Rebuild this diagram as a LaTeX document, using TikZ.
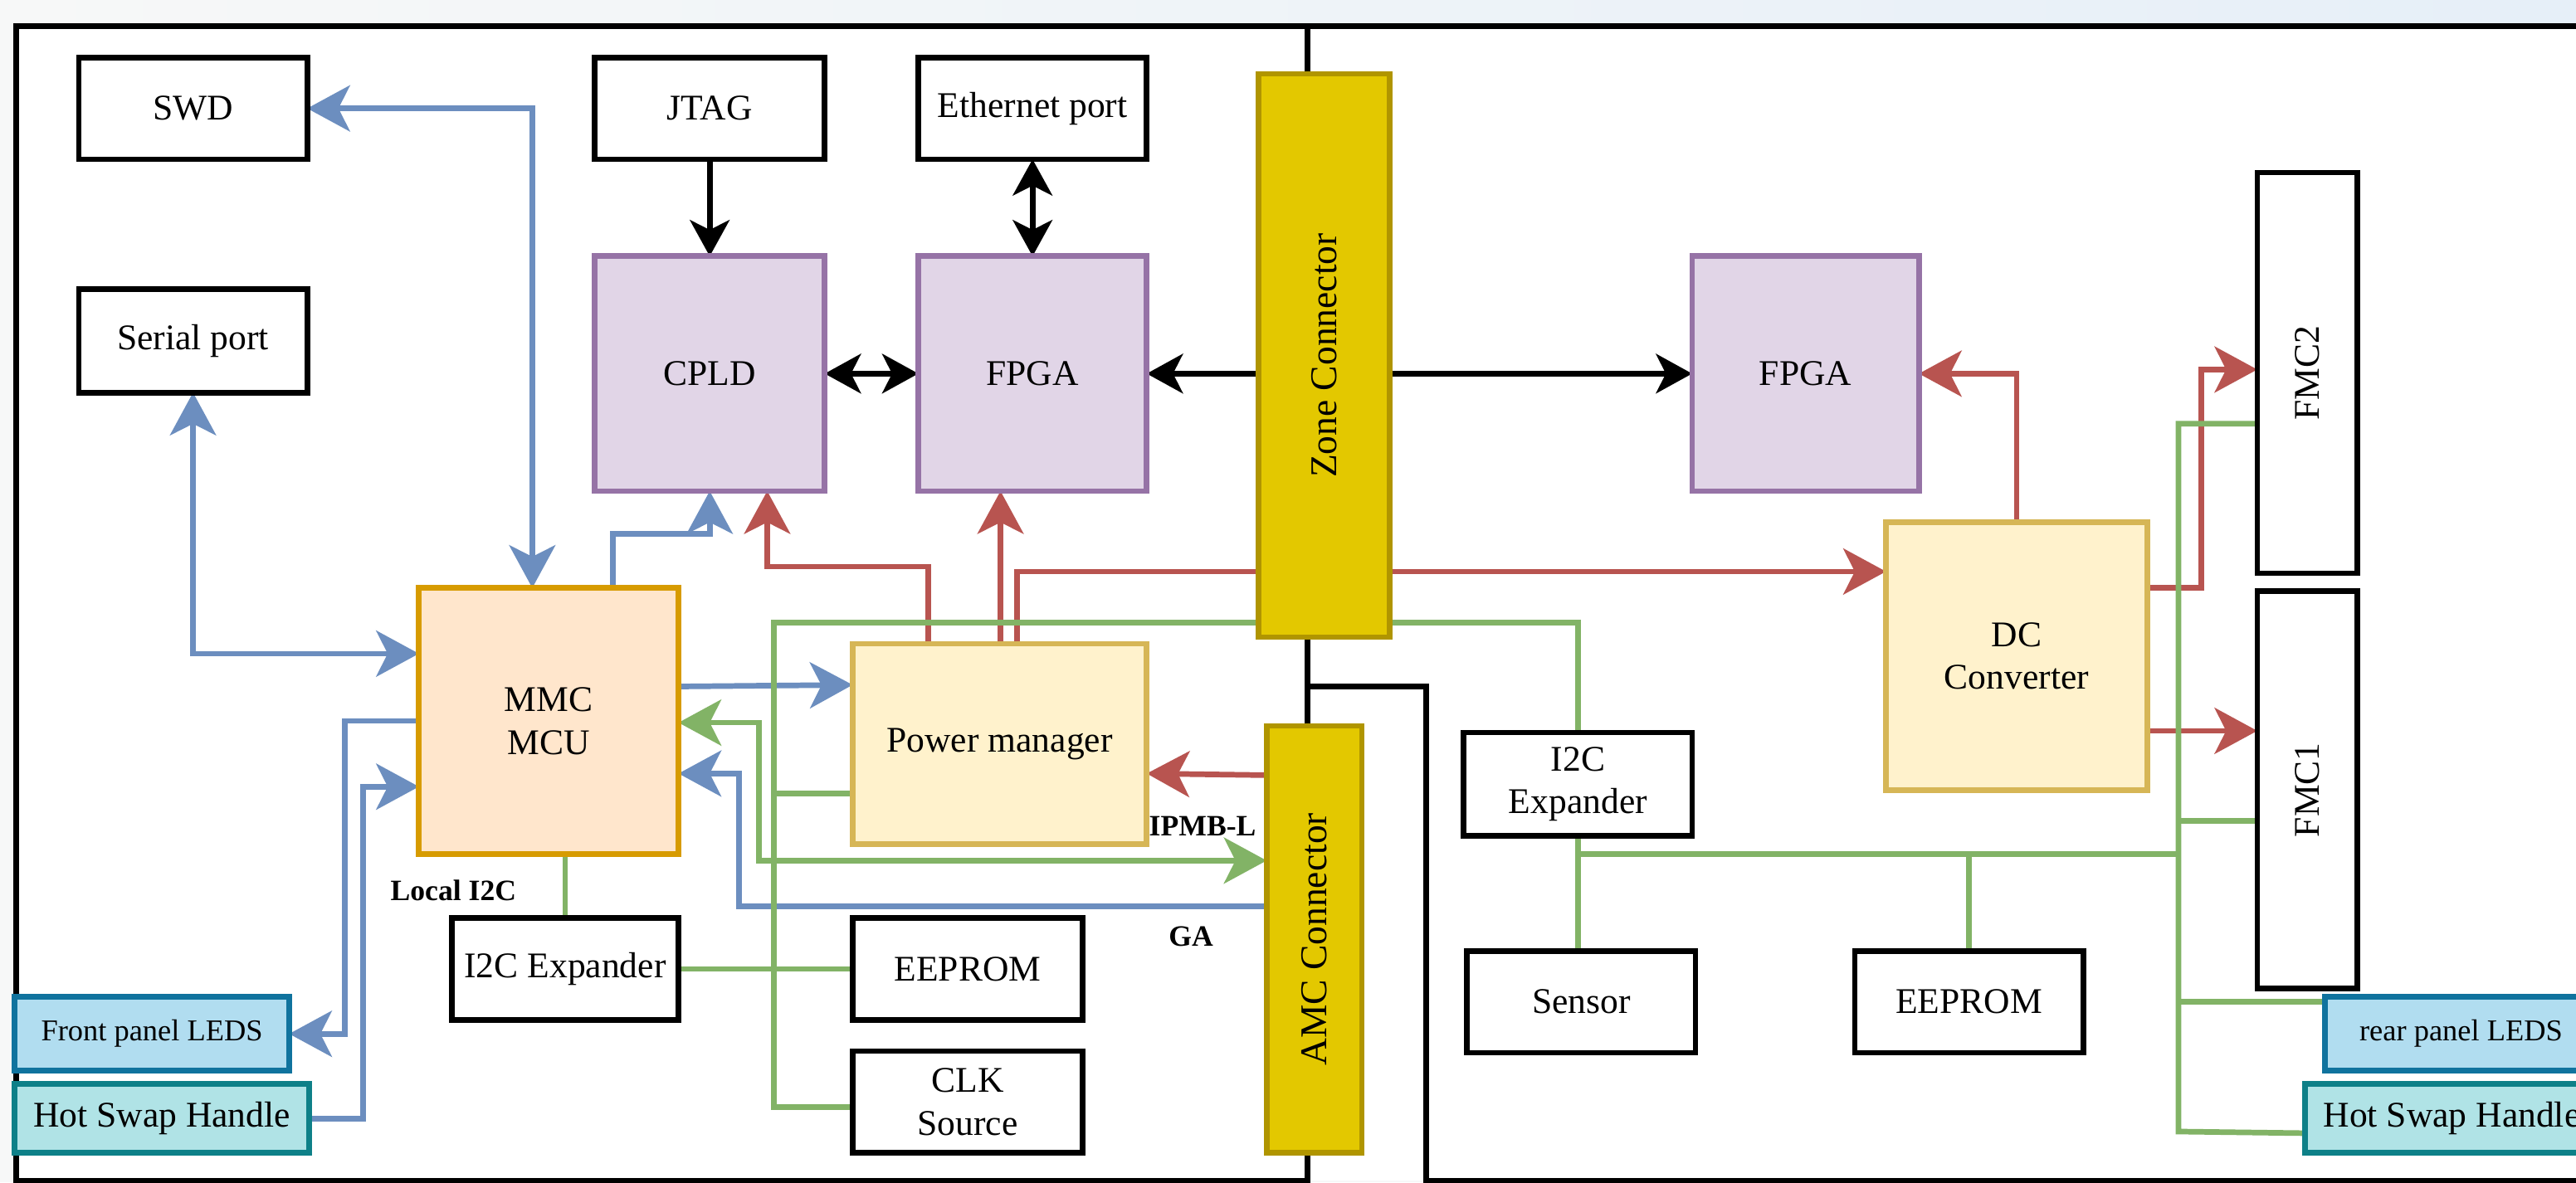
\documentclass[tikz,border=0pt]{standalone}
\usepackage{fontspec}
\setmainfont{Liberation Serif}
\usepackage{graphicx}
\usetikzlibrary{arrows.meta,calc}
\definecolor{bluec}{HTML}{6C8EBF}
\definecolor{greenc}{HTML}{82B366}
\definecolor{redc}{HTML}{B85450}
\definecolor{purpleB}{HTML}{9673A6}
\definecolor{purpleF}{HTML}{E1D5E7}
\definecolor{orangeB}{HTML}{D79B00}
\definecolor{orangeF}{HTML}{FFE6CC}
\definecolor{yellowB}{HTML}{D6B656}
\definecolor{yellowF}{HTML}{FFF2CC}
\definecolor{goldB}{HTML}{B09500}
\definecolor{goldF}{HTML}{E3C800}
\definecolor{ledB}{HTML}{10739E}
\definecolor{ledF}{HTML}{B1DDF0}
\definecolor{hsB}{HTML}{0E8088}
\definecolor{hsF}{HTML}{B0E3E6}
\definecolor{bgL}{HTML}{F7F8F8}
\definecolor{bgR}{HTML}{E6EFF8}
\pgfdeclarelayer{back}
\pgfdeclarelayer{edges}
\pgfsetlayers{back,edges,main}
\newcommand\conntxt{\fontsize{11.5}{13}\selectfont}
\tikzset{
  tipc/.tip={Stealth[length=13pt,width=14pt,inset=3.5pt]},
  tipk/.tip={Stealth[length=11pt,width=12pt,inset=3pt]},
  wh/.style 2 args={minimum width={#1*0.5pt},minimum height={#2*0.5pt}},
  bxbase/.style={line width=1.7pt,inner sep=0pt,outer sep=0pt,align=center,font=\fontsize{11}{13}\selectfont},
  bxplain/.style={bxbase,draw=black,fill=white},
  chip/.style={bxbase,draw=purpleB,fill=purpleF},
  mcu/.style={bxbase,draw=orangeB,fill=orangeF},
  pwr/.style={bxbase,draw=yellowB,fill=yellowF},
  conn/.style={bxbase,draw=goldB,fill=goldF},
  leds/.style={bxbase,draw=ledB,fill=ledF,font=\fontsize{9.2}{11}\selectfont},
  hsh/.style={bxbase,draw=hsB,fill=hsF},
  wire/.style={line width=1.7pt},
  bw/.style={wire,draw=bluec},
  gw/.style={wire,draw=greenc},
  rw/.style={wire,draw=redc},
  kw/.style={wire,draw=black},
  lbl/.style={font=\bfseries\fontsize{9}{11}\selectfont,inner sep=0pt},
}
\begin{document}
\begin{tikzpicture}[x=0.5pt,y=-0.5pt]
\useasboundingbox (0,0) rectangle (1568,720);
\clip (0,0) rectangle (1568,720);

% nodes
\node[bxplain,wh={139}{62}] (swd) at (117.5,66) {SWD};
\node[bxplain,wh={140}{62}] (jtag) at (432,66) {JTAG};
\node[bxplain,wh={139}{62}] (eth) at (628.5,66) {Ethernet port};
\node[bxplain,wh={139}{63}] (serial) at (117.5,207.5) {Serial port};
\node[chip,wh={140}{143}] (cpld) at (432,227.5) {CPLD};
\node[chip,wh={139}{143}] (fpgaA) at (628.5,227.5) {FPGA};
\node[conn,wh={80}{343}] (zone) at (806,216.5) {\rotatebox{90}{\conntxt Zone Connector}};
\node[chip,wh={138}{143}] (fpgaB) at (1099,227.5) {FPGA};
\node[bxplain,wh={61}{244}] (fmc2) at (1404.5,227) {\rotatebox{90}{FMC2}};
\node[mcu,wh={158}{162}] (mmc) at (334,439) {MMC\\MCU};
\node[pwr,wh={179}{122}] (pm) at (608.5,453) {Power manager};
\node[pwr,wh={159}{163}] (dc) at (1227.5,399.5) {DC\\Converter};
\node[bxplain,wh={61}{242}] (fmc1) at (1404.5,481) {\rotatebox{90}{FMC1}};
\node[conn,wh={58}{260}] (amc) at (800,572) {\rotatebox{90}{\conntxt AMC Connector}};
\node[bxplain,wh={139}{63}] (i2cR) at (960.5,477.5) {I2C\\Expander};
\node[bxplain,wh={138}{62}] (i2cL) at (344,590) {I2C Expander};
\node[bxplain,wh={140}{62}] (eepL) at (589,590) {EEPROM};
\node[bxplain,wh={140}{62}] (clk) at (589,671) {CLK\\Source};
\node[leds,wh={167}{45}] (front) at (92.5,629.5) {Front panel LEDS};
\node[hsh,wh={179}{42}] (hotL) at (98.5,681) {Hot Swap Handle};
\node[bxplain,wh={139}{62}] (sensor) at (962.5,610) {Sensor};
\node[bxplain,wh={139}{62}] (eepR) at (1198.5,610) {EEPROM};
\node[leds,wh={166}{45}] (rear) at (1498,629.5) {rear panel LEDS};
\node[hsh,wh={179}{42}] (hotR) at (1492.5,681) {Hot Swap Handle};

\node[lbl] (lblI2C) at (276,542) {Local I2C};
\node[lbl] (lblIPMB) at (732,503) {IPMB-L};
\node[lbl] (lblGA) at (725,570) {GA};

% background and boards
\begin{pgfonlayer}{back}
\fill[bgL] (0,0) rectangle (1568,720);
\shade[left color=bgL,right color=bgR] (0,0) rectangle (1568,16);
\fill[white] (10,16) rectangle (1590,719);
\draw[kw] (10,16) rectangle (796,719);
\draw[kw] (796,16) -- (1590,16) -- (1590,719) -- (868,719) -- (868,418) -- (796,418);
\end{pgfonlayer}

% connectors
\begin{pgfonlayer}{edges}
% blue
\draw[bw,tipc-tipc] (mmc.north -| 324,0) |- (swd.east);
\draw[bw,tipc-tipc] (serial.south) |- (mmc.west |- 0,398);
\draw[bw,-tipc] (mmc.north -| 373,0) -- ++(0,-33) -| (cpld.south);
\draw[bw,-tipc] (mmc.east |- 0,418) -- (pm.west |- 0,417);
\draw[bw,-tipc] (amc.west |- 0,552) -| (450,471) -- (mmc.east |- 0,471);
\draw[bw,-tipc] (mmc.west) -| (210,629.5) -- (front.east);
\draw[bw,-tipc] (hotL.east) -| (221,479) -- (mmc.west |- 0,479);
% black
\draw[kw,-tipk] (jtag.south) -- (cpld.north);
\draw[kw,tipk-tipk] (cpld.east) -- (fpgaA.west);
\draw[kw,tipk-tipk] (eth.south) -- (fpgaA.north);
\draw[kw,-tipk] (zone.west |- fpgaA.east) -- (fpgaA.east);
\draw[kw,-tipk] (zone.east |- fpgaB.west) -- (fpgaB.west);
% red
\draw[rw,-tipc] (pm.north -| 565,0) -- ++(0,-47) -| (cpld.south -| 467,0);
\draw[rw,-tipc] (pm.north -| 609,0) -- (fpgaA.south -| 609,0);
\draw[rw,-tipc] (pm.north -| 619,0) |- (dc.west |- 0,348);
\draw[rw,-tipc] (dc.north) |- (fpgaB.east);
\draw[rw,-tipc] (dc.east |- 0,358) -- (1340,358) |- (fmc2.west |- 0,225);
\draw[rw,-tipc] (dc.east |- 0,445) -- (fmc1.west |- 0,445);
\draw[rw,-tipc] (amc.west |- 0,472) -- (pm.east |- 0,471);
% green
\draw[gw,tipc-tipc] (mmc.east |- 0,440) -| (462,524) -- (amc.west |- 0,524);
\draw[gw] (i2cL.north |- mmc.south) -- (i2cL.north);
\draw[gw] (clk.west |- 0,674) -| (471,379) -| (i2cR.north);
\draw[gw] (pm.west |- 0,483) -- (471,483);
\draw[gw] (i2cL.east) -- (eepL.west);
\draw[gw] (i2cR.south) -- (i2cR.south |- sensor.north);
\draw[gw] (i2cR.south |- 0,520) -- (1326,520);
\draw[gw] (eepR.north |- 0,520) -- (eepR.north);
\draw[gw] (fmc2.west |- 0,258) -| (1326,689) -- (hotR.west |- 0,690);
\draw[gw] (fmc1.west |- 0,500) -- (1326,500);
\draw[gw] (rear.west |- 0,610) -- (1326,610);
\end{pgfonlayer}
\end{tikzpicture}
\end{document}
